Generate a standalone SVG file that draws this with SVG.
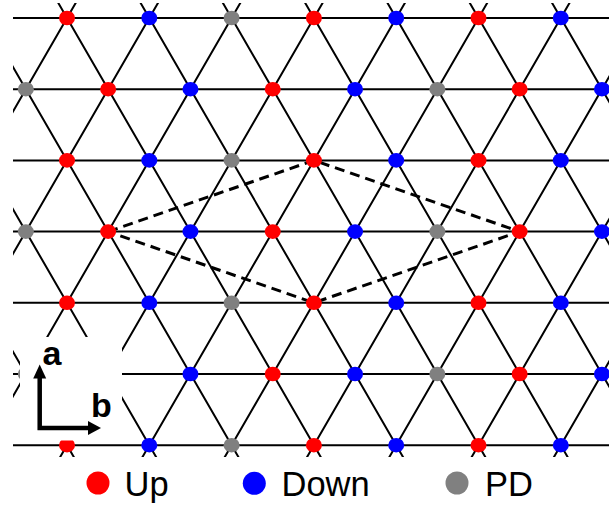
<svg xmlns="http://www.w3.org/2000/svg" width="609" height="506" viewBox="0 0 609 506">
<style>
.edge{stroke:#000;stroke-width:2;fill:none}
.cell{stroke:#000;stroke-width:3;fill:none;stroke-dasharray:10,6}
.up{fill:#ff0000}
.down{fill:#0000ff}
.pd{fill:#808080}
.lbl{font-family:"Liberation Sans",Arial,sans-serif;font-size:34.5px;fill:#000}
.ax{font-family:"Liberation Sans",Arial,sans-serif;font-size:34px;font-weight:bold;fill:#000}
</style>
<defs>
<clipPath id="lat"><rect x="13" y="3" width="600" height="454"/></clipPath>
</defs>
<rect width="609" height="506" fill="#fff"/>
<g id="connectors" clip-path="url(#lat)">
<path class="edge" d="M0 18H609M0 89.2H609M0 160.4H609M0 231.6H609M0 302.8H609M0 374H609M0 445.2H609"/>
<path class="edge" d="M-191.46 -2L76.71 462M-109.16 -2L159.01 462M-26.86 -2L241.31 462M55.44 -2L323.61 462M137.74 -2L405.91 462M220.04 -2L488.21 462M302.34 -2L570.51 462M384.64 -2L652.81 462M466.94 -2L735.11 462M549.24 -2L817.41 462"/>
<path class="edge" d="M78.56 -2L-189.61 462M160.86 -2L-107.31 462M243.16 -2L-25.01 462M325.46 -2L57.29 462M407.76 -2L139.59 462M490.06 -2L221.89 462M572.36 -2L304.19 462M654.66 -2L386.49 462M736.96 -2L468.79 462M819.26 -2L551.09 462"/>
<path id="unit-cell" class="cell" d="M108.15 231.6L313.9 160.4L519.65 231.6L313.9 302.8Z"/>
</g>
<g clip-path="url(#lat)">
<g id="n-0-0"><ellipse class="up" cx="67" cy="18" rx="8" ry="7.3"/></g>
<g id="n-0-1"><ellipse class="down" cx="149.3" cy="18" rx="8" ry="7.3"/></g>
<g id="n-0-2"><ellipse class="pd" cx="231.6" cy="18" rx="8" ry="7.3"/></g>
<g id="n-0-3"><ellipse class="up" cx="313.9" cy="18" rx="8" ry="7.3"/></g>
<g id="n-0-4"><ellipse class="down" cx="396.2" cy="18" rx="8" ry="7.3"/></g>
<g id="n-0-5"><ellipse class="up" cx="478.5" cy="18" rx="8" ry="7.3"/></g>
<g id="n-0-6"><ellipse class="down" cx="560.8" cy="18" rx="8" ry="7.3"/></g>

<g id="n-1-0"><ellipse class="pd" cx="25.85" cy="89.2" rx="8" ry="7.3"/></g>
<g id="n-1-1"><ellipse class="up" cx="108.15" cy="89.2" rx="8" ry="7.3"/></g>
<g id="n-1-2"><ellipse class="down" cx="190.45" cy="89.2" rx="8" ry="7.3"/></g>
<g id="n-1-3"><ellipse class="up" cx="272.75" cy="89.2" rx="8" ry="7.3"/></g>
<g id="n-1-4"><ellipse class="down" cx="355.05" cy="89.2" rx="8" ry="7.3"/></g>
<g id="n-1-5"><ellipse class="pd" cx="437.35" cy="89.2" rx="8" ry="7.3"/></g>
<g id="n-1-6"><ellipse class="up" cx="519.65" cy="89.2" rx="8" ry="7.3"/></g>
<g id="n-1-7"><ellipse class="down" cx="601.95" cy="89.2" rx="8" ry="7.3"/></g>

<g id="n-2-0"><ellipse class="up" cx="67" cy="160.4" rx="8" ry="7.3"/></g>
<g id="n-2-1"><ellipse class="down" cx="149.3" cy="160.4" rx="8" ry="7.3"/></g>
<g id="n-2-2"><ellipse class="pd" cx="231.6" cy="160.4" rx="8" ry="7.3"/></g>
<g id="n-2-3"><ellipse class="up" cx="313.9" cy="160.4" rx="8" ry="7.3"/></g>
<g id="n-2-4"><ellipse class="down" cx="396.2" cy="160.4" rx="8" ry="7.3"/></g>
<g id="n-2-5"><ellipse class="up" cx="478.5" cy="160.4" rx="8" ry="7.3"/></g>
<g id="n-2-6"><ellipse class="down" cx="560.8" cy="160.4" rx="8" ry="7.3"/></g>

<g id="n-3-0"><ellipse class="pd" cx="25.85" cy="231.6" rx="8" ry="7.3"/></g>
<g id="n-3-1"><ellipse class="up" cx="108.15" cy="231.6" rx="8" ry="7.3"/></g>
<g id="n-3-2"><ellipse class="down" cx="190.45" cy="231.6" rx="8" ry="7.3"/></g>
<g id="n-3-3"><ellipse class="up" cx="272.75" cy="231.6" rx="8" ry="7.3"/></g>
<g id="n-3-4"><ellipse class="down" cx="355.05" cy="231.6" rx="8" ry="7.3"/></g>
<g id="n-3-5"><ellipse class="pd" cx="437.35" cy="231.6" rx="8" ry="7.3"/></g>
<g id="n-3-6"><ellipse class="up" cx="519.65" cy="231.6" rx="8" ry="7.3"/></g>
<g id="n-3-7"><ellipse class="down" cx="601.95" cy="231.6" rx="8" ry="7.3"/></g>

<g id="n-4-0"><ellipse class="up" cx="67" cy="302.8" rx="8" ry="7.3"/></g>
<g id="n-4-1"><ellipse class="down" cx="149.3" cy="302.8" rx="8" ry="7.3"/></g>
<g id="n-4-2"><ellipse class="pd" cx="231.6" cy="302.8" rx="8" ry="7.3"/></g>
<g id="n-4-3"><ellipse class="up" cx="313.9" cy="302.8" rx="8" ry="7.3"/></g>
<g id="n-4-4"><ellipse class="down" cx="396.2" cy="302.8" rx="8" ry="7.3"/></g>
<g id="n-4-5"><ellipse class="up" cx="478.5" cy="302.8" rx="8" ry="7.3"/></g>
<g id="n-4-6"><ellipse class="down" cx="560.8" cy="302.8" rx="8" ry="7.3"/></g>

<g id="n-5-0"><ellipse class="pd" cx="25.85" cy="374" rx="8" ry="7.3"/></g>
<g id="n-5-2"><ellipse class="down" cx="190.45" cy="374" rx="8" ry="7.3"/></g>
<g id="n-5-3"><ellipse class="up" cx="272.75" cy="374" rx="8" ry="7.3"/></g>
<g id="n-5-4"><ellipse class="down" cx="355.05" cy="374" rx="8" ry="7.3"/></g>
<g id="n-5-5"><ellipse class="pd" cx="437.35" cy="374" rx="8" ry="7.3"/></g>
<g id="n-5-6"><ellipse class="up" cx="519.65" cy="374" rx="8" ry="7.3"/></g>
<g id="n-5-7"><ellipse class="down" cx="601.95" cy="374" rx="8" ry="7.3"/></g>

<g id="n-6-0"><ellipse class="up" cx="67" cy="445.2" rx="8" ry="7.3"/></g>
<g id="n-6-1"><ellipse class="down" cx="149.3" cy="445.2" rx="8" ry="7.3"/></g>
<g id="n-6-2"><ellipse class="pd" cx="231.6" cy="445.2" rx="8" ry="7.3"/></g>
<g id="n-6-3"><ellipse class="up" cx="313.9" cy="445.2" rx="8" ry="7.3"/></g>
<g id="n-6-4"><ellipse class="down" cx="396.2" cy="445.2" rx="8" ry="7.3"/></g>
<g id="n-6-5"><ellipse class="up" cx="478.5" cy="445.2" rx="8" ry="7.3"/></g>
<g id="n-6-6"><ellipse class="down" cx="560.8" cy="445.2" rx="8" ry="7.3"/></g>
</g>
<g id="axes">
<rect x="20" y="337" width="102" height="103.5" fill="#fff"/>
<path d="M39.7 430V377M37.5 428H89" stroke="#000" stroke-width="4.5" fill="none"/>
<polygon points="39.7,364.5 33.2,378.5 46.2,378.5" fill="#000"/>
<polygon points="101,428 88,421 88,435" fill="#000"/>
<text class="ax" x="42.5" y="364.8">a</text>
<text class="ax" x="91" y="416.5">b</text>
</g>
<g id="legend">
<circle class="up" cx="98" cy="483" r="11.5"/>
<text class="lbl" x="124.5" y="496">Up</text>
<circle class="down" cx="254.3" cy="483.3" r="11.5"/>
<text class="lbl" x="281.5" y="496">Down</text>
<circle class="pd" cx="457" cy="483" r="11.5"/>
<text class="lbl" x="485" y="496">PD</text>
</g>
</svg>
